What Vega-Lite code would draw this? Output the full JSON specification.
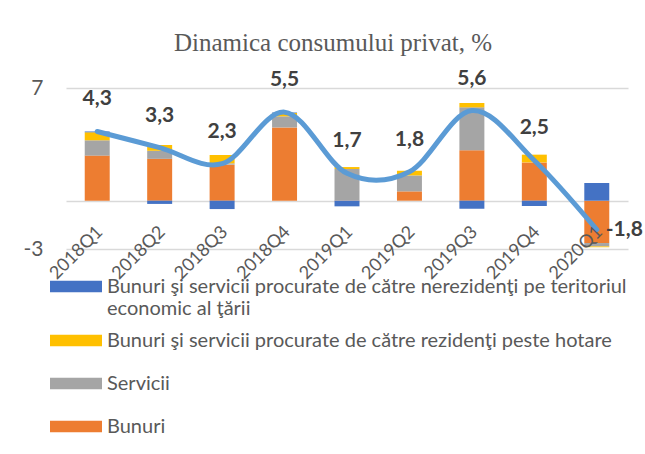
{
  "$schema": "https://vega.github.io/schema/vega-lite/v6.json",
  "width": 562,
  "height": 161,
  "autosize": {"type": "none"},
  "padding": {"left": 66, "top": 88, "right": 17, "bottom": 205},
  "background": "white",
  "title": {
    "text": "Dinamica consumului privat, %",
    "font": "Liberation Serif",
    "fontSize": 25,
    "fontWeight": "normal",
    "color": "#595959",
    "anchor": "middle",
    "dx": -14,
    "offset": 12
  },
  "datasets": {
    "components": [
      {"q": "2018Q1", "c": "Bunuri", "v": 2.8},
      {"q": "2018Q1", "c": "Servicii", "v": 0.95},
      {"q": "2018Q1", "c": "Bunuri şi servicii procurate de către rezidenţi peste hotare", "v": 0.5},
      {"q": "2018Q1", "c": "Bunuri şi servicii procurate de către nerezidenţi pe teritoriul economic al ţării", "v": 0.05},
      {"q": "2018Q2", "c": "Bunuri", "v": 2.6},
      {"q": "2018Q2", "c": "Servicii", "v": 0.5},
      {"q": "2018Q2", "c": "Bunuri şi servicii procurate de către rezidenţi peste hotare", "v": 0.36},
      {"q": "2018Q2", "c": "Bunuri şi servicii procurate de către nerezidenţi pe teritoriul economic al ţării", "v": -0.2},
      {"q": "2018Q3", "c": "Bunuri", "v": 2.24},
      {"q": "2018Q3", "c": "Servicii", "v": 0.08},
      {"q": "2018Q3", "c": "Bunuri şi servicii procurate de către rezidenţi peste hotare", "v": 0.52},
      {"q": "2018Q3", "c": "Bunuri şi servicii procurate de către nerezidenţi pe teritoriul economic al ţării", "v": -0.52},
      {"q": "2018Q4", "c": "Bunuri", "v": 4.55},
      {"q": "2018Q4", "c": "Servicii", "v": 0.69},
      {"q": "2018Q4", "c": "Bunuri şi servicii procurate de către rezidenţi peste hotare", "v": 0.21},
      {"q": "2018Q4", "c": "Bunuri şi servicii procurate de către nerezidenţi pe teritoriul economic al ţării", "v": 0.03},
      {"q": "2019Q1", "c": "Bunuri", "v": 0.02},
      {"q": "2019Q1", "c": "Servicii", "v": 1.95},
      {"q": "2019Q1", "c": "Bunuri şi servicii procurate de către rezidenţi peste hotare", "v": 0.12},
      {"q": "2019Q1", "c": "Bunuri şi servicii procurate de către nerezidenţi pe teritoriul economic al ţării", "v": -0.35},
      {"q": "2019Q2", "c": "Bunuri", "v": 0.58},
      {"q": "2019Q2", "c": "Servicii", "v": 0.99},
      {"q": "2019Q2", "c": "Bunuri şi servicii procurate de către rezidenţi peste hotare", "v": 0.29},
      {"q": "2019Q2", "c": "Bunuri şi servicii procurate de către nerezidenţi pe teritoriul economic al ţării", "v": 0},
      {"q": "2019Q3", "c": "Bunuri", "v": 3.13},
      {"q": "2019Q3", "c": "Servicii", "v": 2.67},
      {"q": "2019Q3", "c": "Bunuri şi servicii procurate de către rezidenţi peste hotare", "v": 0.27},
      {"q": "2019Q3", "c": "Bunuri şi servicii procurate de către nerezidenţi pe teritoriul economic al ţării", "v": -0.5},
      {"q": "2019Q4", "c": "Bunuri", "v": 2.38},
      {"q": "2019Q4", "c": "Servicii", "v": 0},
      {"q": "2019Q4", "c": "Bunuri şi servicii procurate de către rezidenţi peste hotare", "v": 0.48},
      {"q": "2019Q4", "c": "Bunuri şi servicii procurate de către nerezidenţi pe teritoriul economic al ţării", "v": -0.33},
      {"q": "2020Q1", "c": "Bunuri", "v": -2.63},
      {"q": "2020Q1", "c": "Servicii", "v": -0.21},
      {"q": "2020Q1", "c": "Bunuri şi servicii procurate de către rezidenţi peste hotare", "v": -0.05},
      {"q": "2020Q1", "c": "Bunuri şi servicii procurate de către nerezidenţi pe teritoriul economic al ţării", "v": 1.1}
    ],
    "totals": [
      {"q": "2018Q1", "total": 4.3},
      {"q": "2018Q2", "total": 3.3},
      {"q": "2018Q3", "total": 2.3},
      {"q": "2018Q4", "total": 5.5},
      {"q": "2019Q1", "total": 1.7},
      {"q": "2019Q2", "total": 1.8},
      {"q": "2019Q3", "total": 5.6},
      {"q": "2019Q4", "total": 2.5},
      {"q": "2020Q1", "total": -1.8}
    ]
  },
  "layer": [
    {
      "data": {"name": "components"},
      "transform": [
        {"calculate": "indexof(['Bunuri','Servicii','Bunuri şi servicii procurate de către rezidenţi peste hotare','Bunuri şi servicii procurate de către nerezidenţi pe teritoriul economic al ţării'], datum.c)", "as": "ord"}
      ],
      "mark": {"type": "bar"},
      "encoding": {
        "x": {
          "field": "q", "type": "nominal", "sort": null,
          "scale": {"paddingInner": 0.6, "paddingOuter": 0.3},
          "axis": {
            "title": null, "labelAngle": -45, "labelAlign": "right", "labelBaseline": "middle",
            "labelFont": "Lato", "labelFontSize": 18, "labelColor": "#595959",
            "ticks": false, "domain": false, "grid": false,
            "labelPadding": -20, "labelOffset": 3, "zindex": 1
          }
        },
        "y": {
          "field": "v", "type": "quantitative", "stack": "zero",
          "scale": {"domain": [-3, 7], "nice": false, "zero": false},
          "axis": {
            "title": null, "values": [-3, 0, 7],
            "labelExpr": "datum.value == 0 ? '' : replace(datum.label, '−', '-')",
            "grid": true, "gridColor": "#D9D9D9", "gridWidth": 1.5,
            "ticks": false, "domain": false,
            "labelFont": "Lato", "labelFontSize": 21, "labelColor": "#595959", "labelPadding": 23
          }
        },
        "color": {
          "field": "c", "type": "nominal",
          "scale": {
            "domain": [
              "Bunuri şi servicii procurate de către nerezidenţi pe teritoriul economic al ţării",
              "Bunuri şi servicii procurate de către rezidenţi peste hotare",
              "Servicii",
              "Bunuri"
            ],
            "range": ["#4472C4", "#FFC000", "#A5A5A5", "#ED7D31"]
          },
          "legend": {
            "title": null, "orient": "none", "legendX": -16, "legendY": 177,
            "direction": "vertical",
            "symbolType": "M-1,-0.22H1V0.22H-1Z", "symbolSize": 2704, "symbolStrokeWidth": 0,
            "labelFont": "Lato", "labelFontSize": 20, "labelColor": "#595959",
            "labelLimit": 700, "labelOffset": 5, "rowPadding": 0, "clipHeight": 43,
            "labelExpr": "datum.label == 'Bunuri şi servicii procurate de către nerezidenţi pe teritoriul economic al ţării' ? ['Bunuri şi servicii procurate de către nerezidenţi pe teritoriul', 'economic al ţării'] : datum.label"
          }
        },
        "order": {"field": "ord", "type": "quantitative"}
      }
    },
    {
      "data": {"name": "totals"},
      "mark": {"type": "line", "interpolate": "cardinal", "color": "#5B9BD5", "strokeWidth": 5, "strokeCap": "round"},
      "encoding": {
        "x": {"field": "q", "type": "nominal", "sort": null},
        "y": {"field": "total", "type": "quantitative"}
      }
    },
    {
      "data": {"name": "totals"},
      "transform": [
        {"filter": "datum.total >= 0"},
        {"calculate": "replace(format(datum.total, '.1f'), '.', ',')", "as": "lbl"}
      ],
      "mark": {"type": "text", "dy": -32, "font": "Lato", "fontSize": 21, "fontWeight": "bold", "color": "#404040"},
      "encoding": {
        "x": {"field": "q", "type": "nominal", "sort": null},
        "y": {"field": "total", "type": "quantitative"},
        "text": {"field": "lbl"}
      }
    },
    {
      "data": {"name": "totals"},
      "transform": [
        {"filter": "datum.total < 0"},
        {"calculate": "replace(replace(format(datum.total, '.1f'), '.', ','), '−', '-')", "as": "lbl"}
      ],
      "mark": {"type": "text", "align": "left", "dx": 9, "dy": 0, "font": "Lato", "fontSize": 21, "fontWeight": "bold", "color": "#404040"},
      "encoding": {
        "x": {"field": "q", "type": "nominal", "sort": null},
        "y": {"field": "total", "type": "quantitative"},
        "text": {"field": "lbl"}
      }
    }
  ],
  "config": {"view": {"stroke": null}}
}
